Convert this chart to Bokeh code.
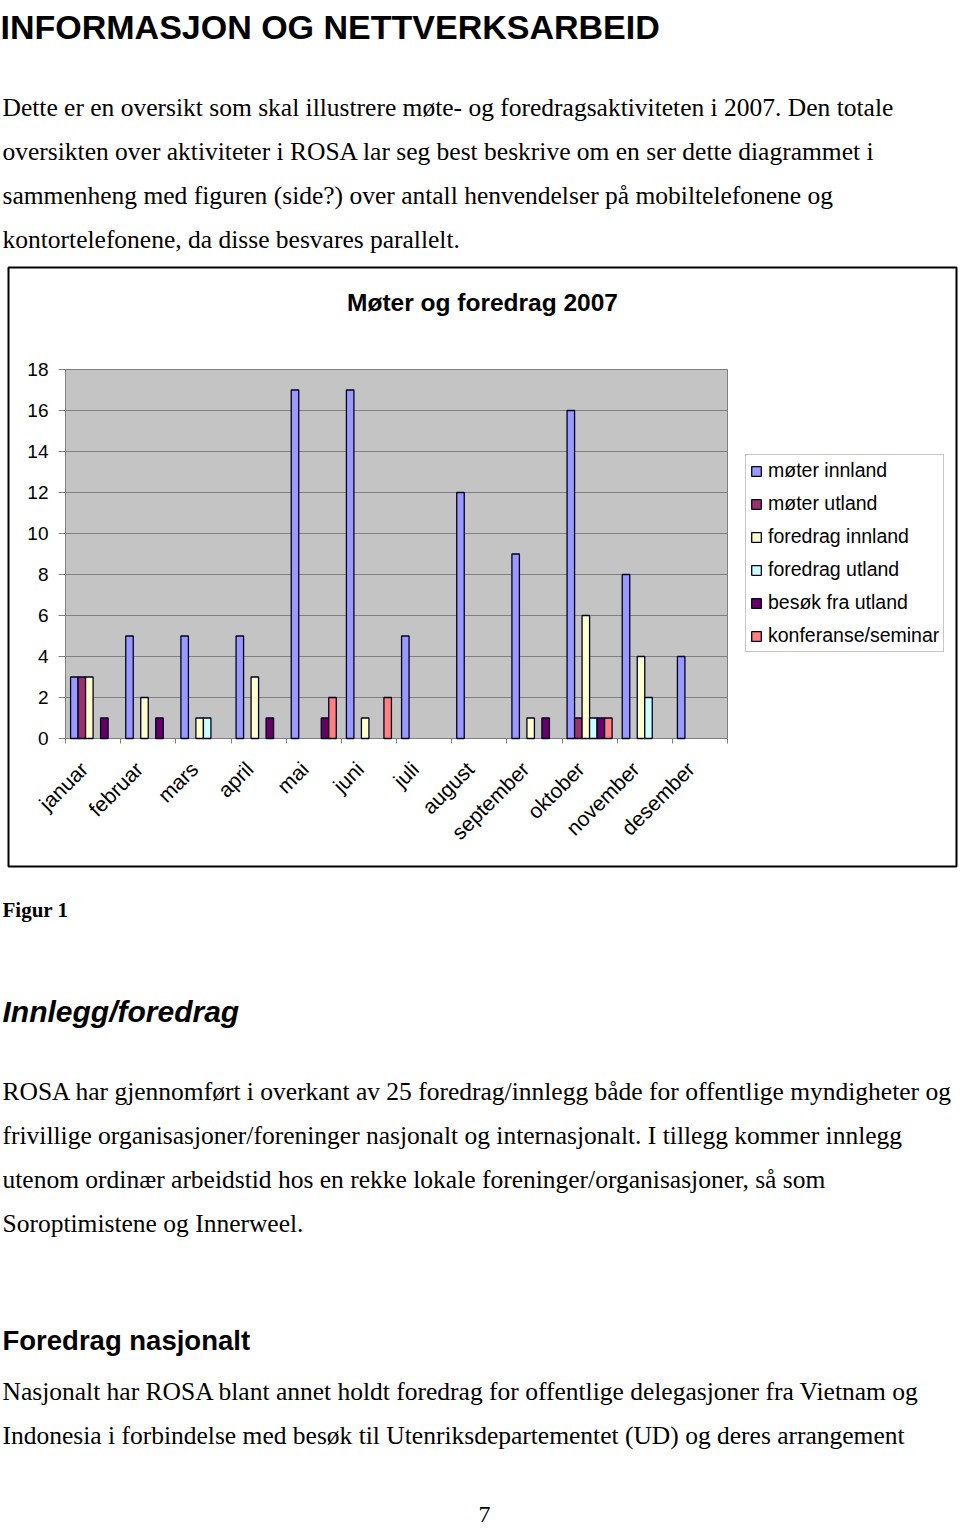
from math import pi
from bokeh.plotting import figure
from bokeh.models import (ColumnDataSource, Range1d, FixedTicker, LinearAxis, Label,
                          Legend, LegendItem, BoxAnnotation)
from bokeh.embed import file_html
from bokeh.resources import INLINE

# ---------------- data ----------------
months = ["januar", "februar", "mars", "april", "mai", "juni", "juli", "august",
          "september", "oktober", "november", "desember"]
series_names = ["møter innland", "møter utland", "foredrag innland", "foredrag utland",
                "besøk fra utland", "konferanse/seminar"]
moter_innland = [3, 5, 5, 5, 17, 17, 5, 12, 9, 16, 8, 4]
moter_utland = [3, 0, 0, 0, 0, 0, 0, 0, 0, 1, 0, 0]
foredrag_innland = [3, 2, 1, 3, 0, 1, 0, 0, 1, 6, 4, 0]
foredrag_utland = [0, 0, 1, 0, 0, 0, 0, 0, 0, 1, 2, 0]
besok_fra_utland = [1, 1, 0, 1, 1, 0, 0, 0, 1, 1, 0, 0]
konferanse_seminar = [0, 0, 0, 0, 2, 2, 0, 0, 0, 1, 0, 0]
y_ticks = [0, 2, 4, 6, 8, 10, 12, 14, 16, 18]
chart_title = "Møter og foredrag 2007"

series_values = [moter_innland, moter_utland, foredrag_innland, foredrag_utland,
                 besok_fra_utland, konferanse_seminar]
series_colors = ["#9999FF", "#993366", "#FFFFCC", "#CCFFFF", "#660066", "#FF8080"]

heading = "INFORMASJON OG NETTVERKSARBEID"
para1 = ["Dette er en oversikt som skal illustrere møte- og foredragsaktiviteten i 2007. Den totale",
         "oversikten over aktiviteter i ROSA lar seg best beskrive om en ser dette diagrammet i",
         "sammenheng med figuren (side?) over antall henvendelser på mobiltelefonene og",
         "kontortelefonene, da disse besvares parallelt."]
caption = "Figur 1"
heading2 = "Innlegg/foredrag"
para2 = ["ROSA har gjennomført i overkant av 25 foredrag/innlegg både for offentlige myndigheter og",
         "frivillige organisasjoner/foreninger nasjonalt og internasjonalt. I tillegg kommer innlegg",
         "utenom ordinær arbeidstid hos en rekke lokale foreninger/organisasjoner, så som",
         "Soroptimistene og Innerweel."]
heading3 = "Foredrag nasjonalt"
para3 = ["Nasjonalt har ROSA blant annet holdt foredrag for offentlige delegasjoner fra Vietnam og",
         "Indonesia i forbindelse med besøk til Utenriksdepartementet (UD) og deres arrangement"]
page_no = "7"

# ---------------- layout constants (page pixels) ----------------
W, H = 960, 1529
FL, FR, FT, FB = 65, 727, 369, 738      # chart plot-area edges
SANS = "Liberation Sans"
SERIF = "Liberation Serif"
BODY = "25.5px"

n_cat = len(months)
y_max = y_ticks[-1]
ux = (FR - FL) / n_cat                  # pixels per month
uy = (FB - FT) / y_max                  # pixels per unit value
LAB0 = FL + ux / 2 - 9                  # anchor of first rotated month label
lab_shift = (LAB0 - FL) / ux            # month boundaries in label-axis units

# default ranges = page pixels (y grows downward)
p = figure(width=W, height=H, output_backend="svg", toolbar_location=None,
           x_range=Range1d(0, W), y_range=Range1d(H, 0),
           x_axis_type=None, y_axis_type=None,
           min_border=0, min_border_left=0, min_border_right=0,
           min_border_top=0, min_border_bottom=0)
p.outline_line_color = None
p.background_fill_color = "white"
p.border_fill_color = "white"

# chart scales
p.extra_x_ranges = {
    "cx": Range1d(-FL / ux, (W - FL) / ux),
    "lab": Range1d(-LAB0 / ux, (W - LAB0) / ux),
}
p.extra_y_ranges = {"cy": Range1d(-(H - FB) / uy, FB / uy)}

# chart box
p.add_layout(BoxAnnotation(left=8, right=956, top=267, bottom=866,
                           fill_color=None, fill_alpha=0,
                           line_color="black", line_alpha=1, line_width=2, level="underlay"))

# plot area
p.quad(left=[0], right=[n_cat], bottom=[0], top=[y_max], x_range_name="cx", y_range_name="cy",
       fill_color="#C4C4C4", line_color="#808080", line_width=1, level="underlay")
# horizontal grid lines
p.segment(x0=[0] * len(y_ticks), x1=[n_cat] * len(y_ticks), y0=y_ticks, y1=y_ticks,
          x_range_name="cx", y_range_name="cy", line_color="#808080", line_width=1)

# y axis
yax = LinearAxis(y_range_name="cy", fixed_location=FL, bounds=(0, y_max),
                 ticker=FixedTicker(ticks=y_ticks),
                 axis_line_color="#808080", major_tick_line_color="#808080",
                 major_tick_out=7, major_tick_in=0, minor_tick_line_color=None,
                 major_label_text_font=SANS, major_label_text_font_size="19px",
                 major_label_text_color="black", major_label_standoff=10)
p.add_layout(yax, "left")

# x axis: rotated month labels, tick marks (minor ticks) between months
lab_axis = LinearAxis(x_range_name="lab", fixed_location=FB,
                      ticker=FixedTicker(ticks=list(range(n_cat)),
                                         minor_ticks=[k - lab_shift for k in range(n_cat + 1)]),
                      major_label_overrides={i: m for i, m in enumerate(months)},
                      major_label_orientation=pi / 4,
                      axis_line_color=None, major_tick_line_color=None,
                      major_tick_out=0, major_tick_in=0,
                      minor_tick_line_color="#808080", minor_tick_out=5, minor_tick_in=0,
                      major_label_text_font=SANS, major_label_text_font_size="21px",
                      major_label_text_color="black", major_label_standoff=22)
p.add_layout(lab_axis, "below")

# bars
bw = 0.136
renderers = []
n = len(series_names)
for s, (vals, col) in enumerate(zip(series_values, series_colors)):
    xs = [i + 0.5 + (s - (n - 1) / 2) * bw for i, v in enumerate(vals) if v > 0]
    tops = [v for v in vals if v > 0]
    src = ColumnDataSource(dict(x=xs, top=tops))
    r = p.vbar(x="x", top="top", bottom=0, width=bw, source=src,
               x_range_name="cx", y_range_name="cy",
               fill_color=col, line_color="#000022", line_width=1.3)
    renderers.append(r)

legend = Legend(items=[LegendItem(label=nm, renderers=[r]) for nm, r in zip(series_names, renderers)],
                location=(745, H - 652), orientation="vertical",
                glyph_width=12, glyph_height=12, label_height=20, label_width=10,
                spacing=10, padding=4, margin=0, label_standoff=6,
                label_text_font=SANS, label_text_font_size="19.5px", label_text_color="black",
                border_line_color="#909090", border_line_width=1,
                background_fill_color="white", background_fill_alpha=1)
p.add_layout(legend, "center")


def add_text(x, y, text, font, size, style="normal", align="left", baseline="alphabetic"):
    p.add_layout(Label(x=x, y=y, text=text,
                       text_font=font, text_font_size=size, text_font_style=style,
                       text_align=align, text_baseline=baseline, text_color="black"))


add_text(482, 302, chart_title, SANS, "24.5px", "bold", "center", "middle")

add_text(0, 26, heading, SANS, "34px", "bold")
for k, line in enumerate(para1):
    add_text(2, 107 + 44 * k, line, SERIF, BODY)
add_text(2, 909, caption, SERIF, "21px", "bold")
add_text(2, 1011, heading2, SANS, "30px", "bold italic")
for k, line in enumerate(para2):
    add_text(2, 1091 + 44 * k, line, SERIF, BODY)
add_text(2, 1340, heading3, SANS, "27.5px", "bold")
for k, line in enumerate(para3):
    add_text(2, 1391 + 44 * k, line, SERIF, BODY)
add_text(484, 1514, page_no, SERIF, "24px", "normal", "center", "middle")

open("out.html", "w").write(file_html(p, INLINE))
